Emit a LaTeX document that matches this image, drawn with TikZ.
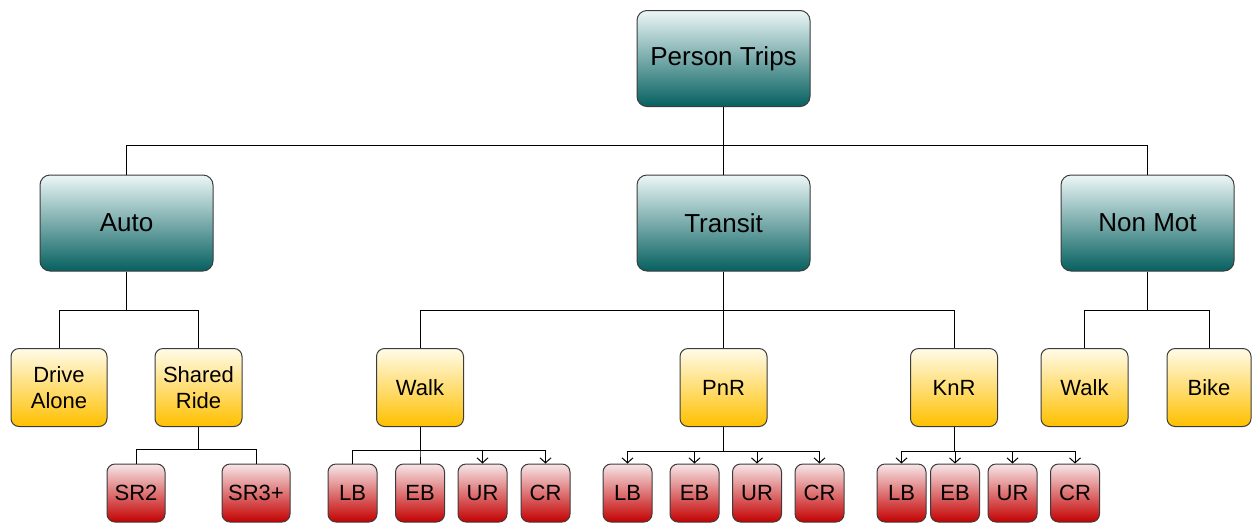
\documentclass[tikz,border=0pt]{standalone}
\usepackage{fontspec}
\setmainfont{Liberation Sans}
\usetikzlibrary{arrows.meta}
\definecolor{tealtop}{RGB}{236,246,246}
\definecolor{tealbot}{RGB}{6,96,96}
\definecolor{goldtop}{RGB}{255,251,232}
\definecolor{goldbot}{RGB}{255,192,0}
\definecolor{redtop}{RGB}{247,230,232}
\definecolor{redbot}{RGB}{196,0,0}
\definecolor{edge}{RGB}{60,60,60}

\begin{document}
\begin{tikzpicture}[x=1pt,y=-1pt,
    box/.style={draw=edge,line width=1pt,inner sep=0pt,align=center},
    modebox/.style={box,rounded corners=10pt,top color=tealtop,bottom color=tealbot,
        minimum width=173,minimum height=96,font=\fontsize{26}{31}\selectfont},
    accbox/.style={box,rounded corners=8pt,top color=goldtop,bottom color=goldbot,
        minimum width=87,minimum height=78,font=\fontsize{22}{26}\selectfont},
    subbox/.style={box,rounded corners=8pt,top color=redtop,bottom color=redbot,
        minimum width=49,minimum height=58,font=\fontsize{22}{26}\selectfont},
    link/.style={draw=black,line width=1pt},
    feed/.style={link,-{Straight Barb[length=5pt,width=11pt]}}]
				\useasboundingbox (0,0) rectangle (1252,523);
				
				% Top node
				\node[modebox] (trips) at (723.5,58.5) {Person Trips};
				
				% Modes
				\node[modebox] (auto) at (126.5,223) {Auto};
				\node[modebox] (transit) at (723.5,223) {Transit};
				\node[modebox] (nonmot) at (1147.5,223) {Non Mot};
				
				% Access
				\node[accbox,minimum width=96] (drive) at (59,387.5) {Drive\\Alone};
				\node[accbox] (shared) at (198.5,387.5) {Shared\\Ride};
				\node[accbox] (twalk) at (420,387.5) {Walk};
				\node[accbox] (pnr) at (723.5,387.5) {PnR};
				\node[accbox] (knr) at (954,387.5) {KnR};
				\node[accbox] (nwalk) at (1084.5,387.5) {Walk};
				\node[accbox,minimum width=84] (bike) at (1209,387.5) {Bike};
				
				% Occupancy and sub modes
				\node[subbox,minimum width=58] (sr2) at (136,493) {SR2};
				\node[subbox,minimum width=68] (sr3) at (256,493) {SR3+};
				\foreach \grp/\xa/\xb/\xc/\xd in {w/352.5/420/482.5/545.5,p/627.5/694.5/757/819.5,k/901.5/955/1012.5/1075}{
					\node[subbox] (\grp lb) at (\xa,493) {LB};
					\node[subbox] (\grp eb) at (\xb,493) {EB};
					\node[subbox] (\grp ur) at (\xc,493) {UR};
					\node[subbox] (\grp cr) at (\xd,493) {CR};
				}
				
				% Connectors
				\foreach \kid in {auto,transit,nonmot}
					\draw[link] (trips.south) -- ++(0,38.5) -| (\kid.north);
				\foreach \kid in {drive,shared}
					\draw[link] (auto.south) -- ++(0,39) -| (\kid.north);
				\foreach \kid in {twalk,pnr,knr}
					\draw[link] (transit.south) -- ++(0,39) -| (\kid.north);
				\foreach \kid in {nwalk,bike}
					\draw[link] (nonmot.south) -- ++(0,39) -| (\kid.north);
				\foreach \kid in {sr2,sr3}
					\draw[link] (shared.south) -- ++(0,22.5) -| (\kid.north);
				\foreach \kid in {wlb,web}
					\draw[link] (twalk.south) -- ++(0,23.5) -| (\kid.north);
				\foreach \kid in {wur,wcr}
					\draw[feed] (twalk.south) -- ++(0,23.5) -| (\kid.north);
				\foreach \kid in {plb,peb,pur,pcr}
					\draw[feed] (pnr.south) -- ++(0,24) -| (\kid.north);
				\foreach \kid in {klb,keb,kur,kcr}
					\draw[feed] (knr.south) -- ++(0,24) -| (\kid.north);
			\end{tikzpicture}
\end{document}
